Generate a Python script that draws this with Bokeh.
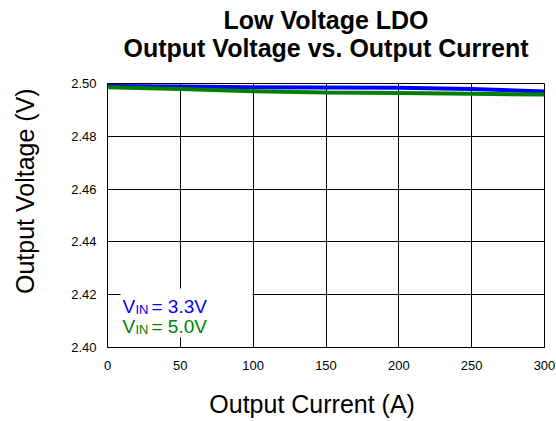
from bokeh.plotting import figure
from bokeh.models import (Title, FixedTicker, NumeralTickFormatter, Range1d,
                          Label, BoxAnnotation)
from bokeh.embed import file_html
from bokeh.resources import INLINE

# Output current sweep (A) and measured output voltage (V) for two input rails
current_a = [0, 50, 100, 150, 200, 250, 300]
vout_vin_3v3 = [2.4991, 2.4989, 2.4986, 2.4985, 2.4984, 2.4979, 2.4970]
vout_vin_5v0 = [2.4986, 2.4979, 2.4971, 2.4966, 2.4964, 2.4961, 2.4958]

x_ticks = [0, 50, 100, 150, 200, 250, 300]
y_ticks = [2.40, 2.42, 2.44, 2.46, 2.48, 2.50]

title_lines = ["Low Voltage LDO", "Output Voltage vs. Output Current"]
x_label = "Output Current (A)"
y_label = "Output Voltage (V)"

FONT = "Liberation Sans"
BLUE = "#0000ff"
GREEN = "#008000"
NBSP = "\u00a0"

p = figure(width=556, height=421, output_backend="svg", toolbar_location=None,
           title=None, x_range=Range1d(0, 300), y_range=Range1d(2.40, 2.50),
           min_border_left=107, min_border_right=12, min_border_top=83,
           min_border_bottom=74)

p.line(current_a, vout_vin_3v3, line_color=BLUE, line_width=4)
p.line(current_a, vout_vin_5v0, line_color=GREEN, line_width=4)

p.xaxis.ticker = FixedTicker(ticks=x_ticks)
p.yaxis.ticker = FixedTicker(ticks=y_ticks)
p.yaxis.formatter = NumeralTickFormatter(format="0.00")

for ax in (p.xaxis, p.yaxis):
    ax.major_tick_out = 0
    ax.major_tick_in = 0
    ax.minor_tick_out = 0
    ax.minor_tick_in = 0
    ax.axis_line_color = "black"
    ax.major_label_text_font = FONT
    ax.major_label_text_font_size = "13px"
    ax.major_label_text_color = "black"
    ax.axis_label_text_font = FONT
    ax.axis_label_text_font_size = "25px"
    ax.axis_label_text_font_style = "normal"
    ax.axis_label_text_color = "black"
p.xaxis.major_label_standoff = 13
p.yaxis.major_label_standoff = 11

# axis titles sit a little off-centre: padding with no-break spaces nudges them
p.xaxis.axis_label = x_label + NBSP * 4
p.yaxis.axis_label = NBSP * 7 + y_label
p.xaxis.axis_label_standoff = 17
p.yaxis.axis_label_standoff = 29

p.grid.grid_line_color = "black"
p.grid.grid_line_alpha = 1.0
p.grid.grid_line_width = 1
p.outline_line_color = "black"
p.outline_line_alpha = 1.0
p.background_fill_color = "white"
p.border_fill_color = "white"

# two-line bold heading: the inner line is added first so it sits next to the frame
p.add_layout(Title(text=title_lines[1], align="center",
                   text_font=FONT, text_font_size="25px", text_font_style="bold",
                   text_color="black", standoff=44), "above")
p.add_layout(Title(text=title_lines[0], align="center",
                   text_font=FONT, text_font_size="25px", text_font_style="bold",
                   text_color="black", standoff=-48), "above")

# legend: white panel with coloured V_IN labels
p.add_layout(BoxAnnotation(left=13, right=145, bottom=10, top=59,
                           left_units="screen", right_units="screen",
                           bottom_units="screen", top_units="screen",
                           fill_color="white", fill_alpha=1.0, line_alpha=0))

legend_rows = [("= 3.3V", BLUE), ("= 5.0V", GREEN)]
for i, (txt, col) in enumerate(legend_rows):
    base = 41 - i * 20
    p.add_layout(Label(x=15, y=base, x_units="screen", y_units="screen",
                       text="V", text_font=FONT, text_font_size="19px",
                       text_color=col, text_baseline="alphabetic"))
    p.add_layout(Label(x=28, y=base - 3, x_units="screen", y_units="screen",
                       text="IN", text_font=FONT, text_font_size="13px",
                       text_color=col, text_baseline="alphabetic"))
    p.add_layout(Label(x=44, y=base, x_units="screen", y_units="screen",
                       text=txt, text_font=FONT, text_font_size="19px",
                       text_color=col, text_baseline="alphabetic"))

open("out.html", "w").write(file_html(p, INLINE))
